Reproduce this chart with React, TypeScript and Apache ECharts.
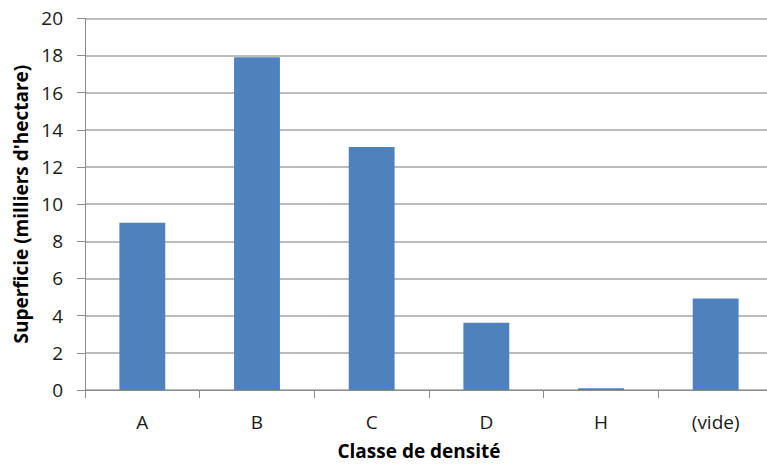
import React, { useEffect, useRef } from "react";
import * as echarts from "echarts";

const categories = ["A", "B", "C", "D", "H", "(vide)"];
const values = [9.0, 17.9, 13.08, 3.62, 0.1, 4.93];
const yTicks = { min: 0, max: 20, interval: 2 };

export default function App() {
  const ref = useRef<HTMLDivElement>(null);
  useEffect(() => {
    const chart = echarts.init(ref.current!, null, { renderer: "svg" });
    chart.setOption({
      animation: false,
      backgroundColor: "#ffffff",
      grid: { left: 85, right: 17, top: 18.3, bottom: 74.4, containLabel: false },
      xAxis: {
        type: "category",
        data: categories,
        name: "Classe de densité",
        nameLocation: "middle",
        nameGap: 51,
        nameTextStyle: {
          fontFamily: "Open Sans",
          fontWeight: "bold",
          fontSize: 19,
          color: "#000",
          padding: [0, 20, 0, 0],
        },
        axisLine: { show: true, lineStyle: { color: "#8c8c8c", width: 1 } },
        axisTick: { show: true, alignWithLabel: false, length: 8, lineStyle: { color: "#8c8c8c" } },
        axisLabel: { margin: 22, fontFamily: "Open Sans", fontSize: 19, color: "#1a1a1a" },
      },
      yAxis: {
        type: "value",
        min: yTicks.min,
        max: yTicks.max,
        interval: yTicks.interval,
        name: "Superficie (milliers d'hectare)",
        nameLocation: "middle",
        nameGap: 55,
        nameTextStyle: {
          fontFamily: "Open Sans",
          fontWeight: "bold",
          fontSize: 19,
          color: "#000",
        },
        axisLine: { show: true, lineStyle: { color: "#8c8c8c", width: 1 } },
        axisTick: { show: true, length: 8, lineStyle: { color: "#8c8c8c" } },
        axisLabel: { margin: 22, fontFamily: "Open Sans", fontSize: 19, color: "#1a1a1a" },
        splitLine: { show: true, lineStyle: { color: "#a6a6a6", width: 1.5 } },
      },
      series: [
        {
          type: "bar",
          data: values,
          barWidth: "40%",
          itemStyle: { color: "#4f81bd" },
        },
      ],
    });
    return () => chart.dispose();
  }, []);
  return (
    <div
      ref={ref}
      style={{ position: "fixed", left: 0, top: 0, width: 790, height: 465 }}
    />
  );
}
